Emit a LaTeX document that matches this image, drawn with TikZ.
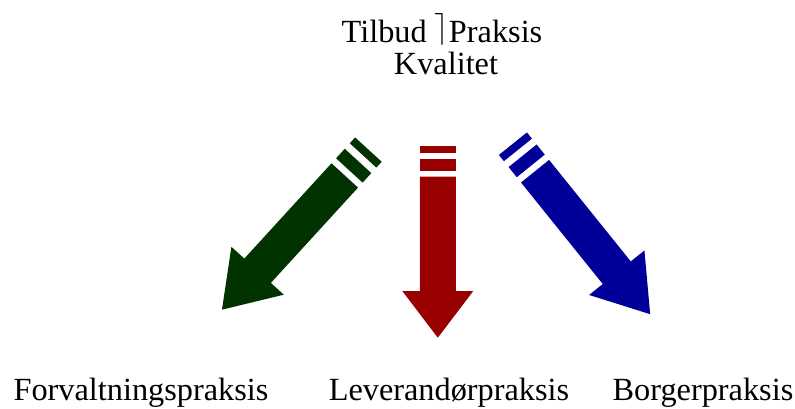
\documentclass[tikz,border=0pt]{standalone}
\usepackage{graphicx}
\usepackage{fontspec}
\setmainfont{Liberation Serif}

\definecolor{arrowgreen}{RGB}{0,51,0}
\definecolor{arrowred}{RGB}{153,0,0}
\definecolor{arrowblue}{RGB}{0,0,153}

% Striped block arrow: #1 colour, (#2,#3) tail, #4 direction, #5 length factor
\newcommand{\stripedarrow}[5]{%
  \begin{scope}[shift={(#2,#3)}, rotate=#4, xscale=#5]
    \fill[#1] (0,-18) rectangle (7,18);
    \fill[#1] (13.6,-18) rectangle (25,18);
    \fill[#1] (31,-18) -- (145.3,-18) -- (145.3,-35.5) -- (192,0)
      -- (145.3,35.5) -- (145.3,18) -- (31,18) -- cycle;
  \end{scope}}

% Tall right-ceiling bracket between the words of the heading
\newcommand{\ceilmark}{\raisebox{5pt}{\resizebox*{!}{32pt}{$\rceil$}}}

\tikzset{
  label/.style={anchor=base, inner sep=0pt, font=\fontsize{32.3}{38}\selectfont},
}

\begin{document}
\begin{tikzpicture}[x=1pt, y=-1pt]
  \useasboundingbox (0,0) rectangle (795,409);

  \node[label] (title) at (442,43) {Tilbud \ceilmark Praksis};
  \node[label] (quality) at (446,75) {Kvalitet};

  \stripedarrow{arrowgreen}{368.4}{149.6}{227.55}{1.13}
  \stripedarrow{arrowred}{437.8}{145.7}{-90}{1}
  \stripedarrow{arrowblue}{512.9}{143.7}{-51.16}{1.14}

  \node[label] (admin) at (141,400) {Forvaltningspraksis};
  \node[label] (supplier) at (449,400) {Leverandørpraksis};
  \node[label] (citizen) at (703,400) {Borgerpraksis};
\end{tikzpicture}
\end{document}
